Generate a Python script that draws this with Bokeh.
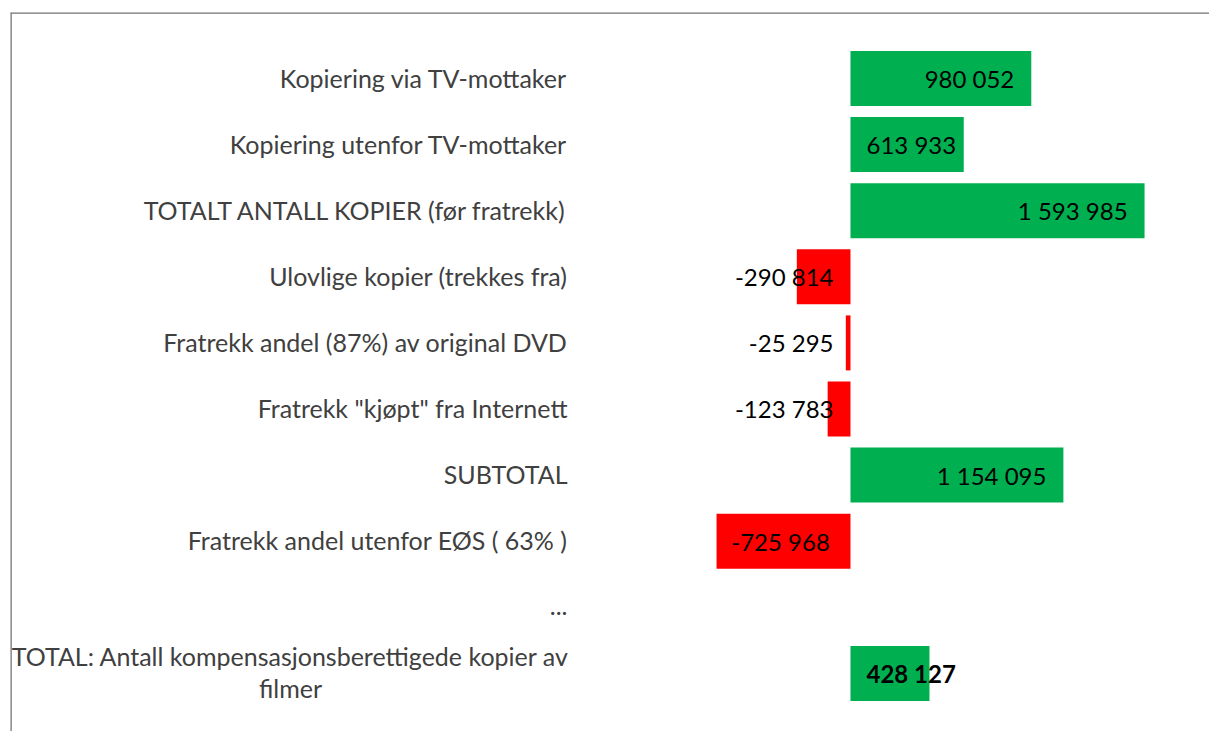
from bokeh.plotting import figure
from bokeh.models import Range1d, ColumnDataSource, Span
from bokeh.embed import file_html
from bokeh.resources import INLINE
from bokeh.core.properties import value
import math

categories = [
    "Kopiering via TV-mottaker",
    "Kopiering utenfor TV-mottaker",
    "TOTALT ANTALL KOPIER (før fratrekk)",
    "Ulovlige kopier (trekkes fra)",
    "Fratrekk andel (87%) av original DVD",
    "Fratrekk \"kjøpt\" fra Internett",
    "SUBTOTAL",
    "Fratrekk andel utenfor EØS ( 63% )",
    "...",
    "TOTAL: Antall kompensasjonsberettigede kopier av\nfilmer",
]
values = [980052, 613933, 1593985, -290814, -25295, -123783, 1154095, -725968, float("nan"), 428127]
label_pos = ["end", "base", "end", "base", "base", "base", "end", "center", "none", "base"]
label_bold = [False, False, False, False, False, False, False, False, False, True]

FONT = "Lato"
FS = "25px"
VFS = "24px"
GREEN = "#00B050"
RED = "#FF0000"
TEXT_GRAY = "#404040"
FRAME = "#707070"

n = len(categories)
ys = list(range(n))

X0, X1 = -4553000, 1946000
Y_BOTTOM, Y_TOP = 9.879, -0.9985

p = figure(width=1209, height=731, output_backend="svg", toolbar_location=None,
           x_axis_type=None, y_axis_type=None,
           x_range=Range1d(X0, X1), y_range=Range1d(Y_BOTTOM, Y_TOP),
           min_border_left=10, min_border_top=12, min_border_right=0, min_border_bottom=0)
p.grid.visible = False
p.outline_line_color = None
p.background_fill_color = "white"
p.border_fill_color = "white"

p.add_layout(Span(location=Y_TOP, dimension="width", line_color=FRAME, line_width=2.5))
p.add_layout(Span(location=X0, dimension="height", line_color=FRAME, line_width=2.5))

bar_y, bar_v, bar_c = [], [], []
for y, v in zip(ys, values):
    if v is None or (isinstance(v, float) and math.isnan(v)):
        continue
    bar_y.append(y)
    bar_v.append(v)
    bar_c.append(GREEN if v >= 0 else RED)
bars = ColumnDataSource(dict(y=bar_y, right=bar_v, left=[0] * len(bar_v), color=bar_c))
p.hbar(y="y", left="left", right="right", height=0.832, fill_color="color", line_color=None, source=bars)

# category labels
single = ColumnDataSource(dict(x=[0] * (n - 1), y=ys[:-1], text=categories[:-1]))
p.text(x="x", y="y", text="text", source=single, x_offset=-283, y_offset=-1, text_align="right",
       text_baseline="middle", text_font=value(FONT), text_font_size=FS, text_color=TEXT_GRAY)
last = ColumnDataSource(dict(x=[0], y=[ys[-1]], text=[categories[-1]]))
p.text(x="x", y="y", text="text", source=last, x_offset=-560, y_offset=-1, text_align="center",
       text_baseline="middle", text_font=value(FONT), text_font_size=FS, text_color=TEXT_GRAY,
       text_line_height=1.07)

# value labels
def fmt(v):
    s = f"{abs(int(v)):,}".replace(",", " ")
    return ("-" if v < 0 else "") + s

groups = {}
for y, v, pos, b in zip(ys, values, label_pos, label_bold):
    if pos == "none":
        continue
    if pos == "end":
        x, align, off = v, "right", -17
    elif pos == "center":
        x, align, off = v / 2, "center", -3
    else:
        x, align, off = 0, ("left" if v >= 0 else "right"), (16 if v >= 0 else -17)
    key = (align, off, b)
    g = groups.setdefault(key, dict(x=[], y=[], text=[]))
    g["x"].append(x)
    g["y"].append(y)
    g["text"].append(fmt(v))

for (align, off, b), g in groups.items():
    p.text(x="x", y="y", text="text", source=ColumnDataSource(g), x_offset=off,
           text_align=align, text_baseline="middle", text_font=value(FONT),
           text_font_size=VFS, text_color="black",
           text_font_style="bold" if b else "normal")

open("out.html", "w").write(file_html(p, INLINE))
